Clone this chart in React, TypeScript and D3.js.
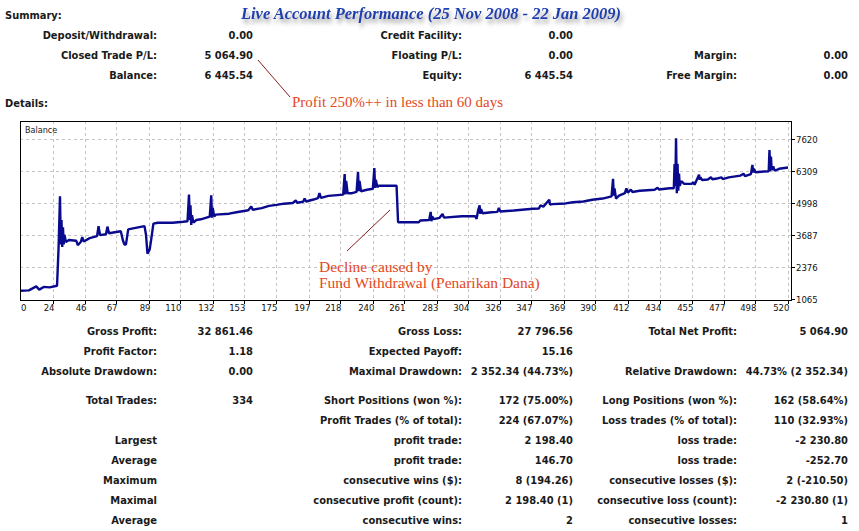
import * as d3 from 'd3';
import React, { useEffect, useRef } from 'react';

// balance curve (trade number -> balance)
const tradeIndex = [
  2, 8, 13, 15, 18, 22, 27, 28, 29, 29.5, 30, 30.5, 31, 31.5, 32, 33, 35, 40, 41, 43, 44, 45, 49, 54, 55, 56,
  60, 61, 62, 66, 70, 71.5, 72.5, 73.5, 75, 80, 86, 87, 88, 89.5, 90.5, 92, 95, 105, 112, 115, 116, 116.5,
  117, 117.5, 118, 119, 121, 124, 130, 131, 131.5, 132, 133, 134, 143, 148, 156, 158, 159, 165, 170, 175,
  180, 186, 188, 189, 193, 194, 195, 200, 203, 204, 205, 210, 216, 220, 221, 221.5, 222, 223, 226, 229, 230,
  230.5, 231, 232, 236, 240, 241, 241.5, 242, 243, 244, 256, 257, 271, 272, 278, 279, 279.5, 280, 281, 285,
  287, 288, 300, 309, 310, 311, 312, 312.5, 313, 314, 320, 324, 325, 326, 335, 348, 352, 353, 355, 359,
  359.5, 361, 370, 375, 382, 388, 395, 401, 402, 402.5, 403, 404, 406, 410, 411, 412, 414, 415, 420, 430,
  432, 433, 440, 443, 443.5, 444, 444.5, 445, 445.5, 446, 446.5, 447, 448, 450, 455, 456, 457, 460, 460.5,
  461, 462, 466, 468, 469, 472, 475, 476, 480, 488, 490, 491, 495, 496, 496.5, 497, 498, 504, 507, 507.5,
  508, 508.5, 509, 510, 511, 514, 520,
];
const balance = [
  1403, 1420, 1580, 1450, 1560, 1540, 1606, 3100, 5270, 3300, 4300, 3200, 4000, 3300, 3700, 3400, 3480, 3450,
  3275, 3400, 3600, 3420, 3560, 3640, 4050, 3680, 3720, 4030, 3760, 3800, 3840, 3450, 3300, 3300, 3915, 3980,
  4050, 3700, 2925, 3100, 3500, 4150, 4190, 4190, 4230, 4250, 5340, 4300, 4900, 4100, 4500, 4200, 4300, 4330,
  4440, 5310, 4400, 4800, 4450, 4520, 4560, 4620, 4700, 4850, 4720, 4790, 4880, 4920, 4970, 5000, 5100, 5010,
  5050, 5180, 5060, 5140, 5200, 5400, 5210, 5290, 5320, 5340, 6180, 5350, 5900, 5400, 5400, 5450, 6265, 5480,
  5900, 5480, 5540, 5580, 6425, 5620, 5950, 5650, 5705, 5705, 4212, 4212, 4280, 4300, 4635, 4250, 4450, 4340,
  4390, 4550, 4400, 4455, 4460, 4350, 4700, 4905, 4550, 4750, 4580, 4620, 4635, 4800, 4650, 4690, 4760, 4770,
  4900, 4850, 5135, 4930, 4950, 4980, 5030, 5060, 5130, 5180, 5270, 5990, 5300, 5600, 5180, 5300, 5400, 5600,
  5420, 5550, 5450, 5500, 5540, 5620, 5550, 5600, 5600, 6590, 5700, 7645, 5400, 6600, 5500, 6200, 5700, 5900,
  5780, 5780, 5850, 5750, 6155, 5950, 6050, 5940, 5960, 6050, 5970, 6000, 6050, 5980, 6050, 6120, 6200, 6100,
  6180, 6560, 6250, 6400, 6260, 6290, 6300, 7170, 6300, 6900, 6350, 6500, 6320, 6400, 6450,
];
const xTicks = [0, 24, 46, 67, 89, 110, 132, 153, 175, 197, 218, 240, 261, 283, 304, 326, 347, 369, 390, 412, 434, 455, 477, 498, 520];
const yTicks = [1065, 2376, 3687, 4998, 6309, 7620];

const titleText = 'Live Account Performance (25 Nov 2008 - 22 Jan 2009)';

const summaryCol1 = [['Deposit/Withdrawal:', '0.00'], ['Closed Trade P/L:', '5 064.90'], ['Balance:', '6 445.54']];
const summaryCol2 = [['Credit Facility:', '0.00'], ['Floating P/L:', '0.00'], ['Equity:', '6 445.54']];
const summaryCol3 = [['', ''], ['Margin:', '0.00'], ['Free Margin:', '0.00']];

const detailCol1 = [
  ['Gross Profit:', '32 861.46'], ['Profit Factor:', '1.18'], ['Absolute Drawdown:', '0.00'], ['Total Trades:', '334'],
  ['', ''], ['Largest', ''], ['Average', ''], ['Maximum', ''], ['Maximal', ''], ['Average', ''],
];
const detailCol2 = [
  ['Gross Loss:', '27 796.56'], ['Expected Payoff:', '15.16'], ['Maximal Drawdown:', '2 352.34 (44.73%)'],
  ['Short Positions (won %):', '172 (75.00%)'], ['Profit Trades (% of total):', '224 (67.07%)'],
  ['profit trade:', '2 198.40'], ['profit trade:', '146.70'], ['consecutive wins ($):', '8 (194.26)'],
  ['consecutive profit (count):', '2 198.40 (1)'], ['consecutive wins:', '2'],
];
const detailCol3 = [
  ['Total Net Profit:', '5 064.90'], ['', ''], ['Relative Drawdown:', '44.73% (2 352.34)'],
  ['Long Positions (won %):', '162 (58.64%)'], ['Loss trades (% of total):', '110 (32.93%)'],
  ['loss trade:', '-2 230.80'], ['loss trade:', '-252.70'], ['consecutive losses ($):', '2 (-210.50)'],
  ['consecutive loss (count):', '-2 230.80 (1)'], ['consecutive losses:', '1'],
];

const W = 859;
const H = 531;
const TABLE_FONT = "'DejaVu Sans Condensed', 'DejaVu Sans', sans-serif";
const SERIF = "'Liberation Serif', 'DejaVu Serif', serif";

const App: React.FC = () => {
  const ref = useRef<SVGSVGElement | null>(null);

  useEffect(() => {
    if (!ref.current) return;
    const svg = d3.select(ref.current);
    svg.selectAll('*').remove();

    svg.append('rect').attr('width', W).attr('height', H).attr('fill', '#fff');

    const defs = svg.append('defs');
    const f = defs.append('filter').attr('id', 'shadow').attr('x', '-5%').attr('y', '-50%').attr('width', '110%').attr('height', '200%');
    f.append('feDropShadow').attr('dx', 2).attr('dy', 4).attr('stdDeviation', 2).attr('flood-color', '#777').attr('flood-opacity', 0.7);

    // title
    svg.append('text')
      .attr('x', 431).attr('y', 19)
      .attr('text-anchor', 'middle')
      .attr('filter', 'url(#shadow)')
      .style('font-family', SERIF).style('font-style', 'italic').style('font-weight', 'bold')
      .style('font-size', '16.5px').style('fill', '#1e3fae')
      .text(titleText);

    const bold = (x: number, y: number, t: string, anchor = 'end') =>
      svg.append('text')
        .attr('x', x).attr('y', y).attr('dy', '0.35em')
        .attr('text-anchor', anchor)
        .style('font-family', TABLE_FONT).style('font-weight', 'bold').style('font-size', '11px').style('fill', '#1a1a1a')
        .text(t);

    bold(5, 15, 'Summary:', 'start');
    bold(5, 103, 'Details:', 'start');

    const labelRight = [157, 462, 737];
    const valueRight = [253, 573, 848];

    [summaryCol1, summaryCol2, summaryCol3].forEach((col, c) => {
      col.forEach(([label, value], i) => {
        const y = 35 + i * 20;
        if (label) bold(labelRight[c], y, label);
        if (value) bold(valueRight[c], y, value);
      });
    });

    const detailY = [331, 351, 371, 400, 420, 440, 460, 480, 500, 520];
    [detailCol1, detailCol2, detailCol3].forEach((col, c) => {
      col.forEach(([label, value], i) => {
        if (label) bold(labelRight[c], detailY[i], label);
        if (value) bold(valueRight[c], detailY[i], value);
      });
    });

    // chart
    const box = { left: 20, right: 791, top: 121, bottom: 300 };
    const x = d3.scaleLinear().domain([0, 520]).range([17, 788]);
    const y = d3.scaleLinear().domain([1065, 7620]).range([299, 139]);

    const g = svg.append('g');
    // grid
    g.selectAll('.vg')
      .data(xTicks.slice(1))
      .enter()
      .append('line')
      .attr('x1', (d) => Math.round(x(d)) + 0.5).attr('x2', (d) => Math.round(x(d)) + 0.5)
      .attr('y1', box.top).attr('y2', box.bottom)
      .attr('stroke', '#c4c4c4').attr('stroke-dasharray', '3,3');
    g.selectAll('.hg')
      .data(yTicks.slice(1))
      .enter()
      .append('line')
      .attr('y1', (d) => Math.round(y(d)) + 0.5).attr('y2', (d) => Math.round(y(d)) + 0.5)
      .attr('x1', box.left).attr('x2', box.right)
      .attr('stroke', '#c4c4c4').attr('stroke-dasharray', '3,3');

    // balance line
    defs.append('clipPath').attr('id', 'plot')
      .append('rect').attr('x', box.left).attr('y', box.top).attr('width', box.right - box.left).attr('height', box.bottom - box.top);
    const pts: [number, number][] = tradeIndex.map((t, i) => [t, balance[i]]);
    const line = d3.line<[number, number]>().x((d) => x(d[0])).y((d) => y(d[1]));
    g.append('path')
      .attr('d', line(pts) ?? '')
      .attr('clip-path', 'url(#plot)')
      .attr('fill', 'none')
      .attr('stroke', '#0a0a8e')
      .attr('stroke-width', 2.4)
      .attr('stroke-linejoin', 'bevel');

    // frame
    g.append('rect')
      .attr('x', box.left + 0.5).attr('y', box.top + 0.5)
      .attr('width', box.right - box.left).attr('height', box.bottom - box.top)
      .attr('fill', 'none').attr('stroke', '#000');

    g.append('text')
      .attr('x', 25).attr('y', 130).attr('dy', '0.35em')
      .style('font-family', TABLE_FONT).style('font-size', '9px').style('fill', '#222')
      .text('Balance');

    // y axis (right)
    yTicks.forEach((v) => {
      const yy = Math.round(y(v)) + 0.5;
      g.append('line').attr('x1', box.right).attr('x2', box.right + 4).attr('y1', yy).attr('y2', yy).attr('stroke', '#000');
      g.append('text')
        .attr('x', 796).attr('y', yy).attr('dy', '0.35em')
        .style('font-family', TABLE_FONT).style('font-size', '9.5px').style('fill', '#111')
        .text(String(v));
    });

    // x axis (bottom)
    xTicks.forEach((v, i) => {
      const xx = Math.round(x(v)) + 0.5;
      if (i > 0) g.append('line').attr('x1', xx).attr('x2', xx).attr('y1', box.bottom).attr('y2', box.bottom + 4).attr('stroke', '#000');
      g.append('text')
        .attr('x', i === 0 ? 21 : xx + 1).attr('y', 308).attr('dy', '0.35em')
        .attr('text-anchor', i === 0 ? 'start' : 'end')
        .style('font-family', TABLE_FONT).style('font-size', '9.5px').style('fill', '#111')
        .text(String(v));
    });

    // annotations
    const note = (xx: number, yy: number, t: string, size: number) =>
      svg.append('text')
        .attr('x', xx).attr('y', yy).attr('dy', '0.35em')
        .style('font-family', SERIF).style('font-size', `${size}px`).style('fill', '#e4481c')
        .text(t);
    svg.append('line').attr('x1', 258).attr('y1', 60).attr('x2', 290).attr('y2', 97).attr('stroke', '#8a1e1e').attr('stroke-width', 1);
    note(292, 102, 'Profit 250%++ in less than 60 days', 15);
    svg.append('line').attr('x1', 347).attr('y1', 251).attr('x2', 390).attr('y2', 210).attr('stroke', '#8a1e1e').attr('stroke-width', 1);
    note(319, 267, 'Decline caused by', 15.5);
    note(319, 283, 'Fund Withdrawal (Penarikan Dana)', 15.5);
  }, []);

  return <svg ref={ref} width={W} height={H} style={{ position: 'absolute', left: 0, top: 0 }}></svg>;
};

export default App;
